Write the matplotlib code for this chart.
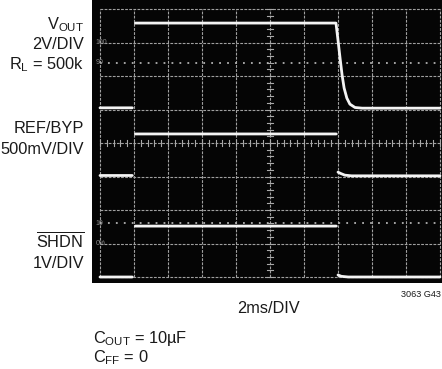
"""
Scope capture: VOUT, REF/BYP and SHDN turn-on / turn-off transient.
"""
import numpy as np
import matplotlib.pyplot as plt

plt.rcParams['font.family'] = ['Liberation Sans', 'DejaVu Sans']
plt.rcParams['mathtext.fontset'] = 'custom'
plt.rcParams['mathtext.rm'] = 'Liberation Sans'
plt.rcParams['mathtext.it'] = 'Liberation Sans'

# ---------------------------------------------------------------------
# Traces (x in divisions, y in divisions)
# ---------------------------------------------------------------------
nan = np.nan

vout_t = [0.0, 0.95, nan, 1.04, 6.94, 7.0, 7.06, 7.12, 7.18, 7.26, 7.35, 7.5, 7.71, 10.0]
vout_v = [5.05, 5.05, nan, 7.58, 7.58, 7.07, 6.54, 6.03, 5.64, 5.34, 5.16, 5.06, 5.04, 5.04]

ref_t = [0.0, 0.95, nan, 1.04, 6.95, nan, 7.0, 7.08, 7.2, 7.4, 10.0]
ref_v = [3.03, 3.03, nan, 4.27, 4.27, nan, 3.13, 3.09, 3.04, 3.02, 3.02]

shdn_t = [0.0, 0.95, nan, 1.04, 6.95, nan, 7.0, 7.1, 7.3, 10.0]
shdn_v = [0.0, 0.0, nan, 1.52, 1.52, nan, 0.06, 0.02, 0.0, 0.0]

# graticule percentage markers (label, y in divisions)
pct_labels = ["100", "90", "10", "0%"]
pct_levels = [7.0, 6.4, 1.6, 1.0]

# ---------------------------------------------------------------------
# Figure
# ---------------------------------------------------------------------
W, H = 442, 369
fig = plt.figure(figsize=(W / 100, H / 100), dpi=100)
fig.patch.set_facecolor('white')

# black screen area: px x 92..442, y 0..283
ax = fig.add_axes([92 / W, 1 - 283 / H, 350 / W, 283 / H])
ax.set_facecolor('#050505')
ax.set_xlim(-8 / 34, 10 + 2 / 34)
ax.set_ylim(-6 / 33.5, 8 + 9 / 33.5)
ax.set_xticks([])
ax.set_yticks([])
for s in ax.spines.values():
    s.set_visible(False)

grid_kw = dict(color='#a0a0a0', lw=0.8, ls=(0, (2.5, 1.2)), zorder=1)
for gx in range(11):
    ax.plot([gx, gx], [0, 8], **grid_kw)
for gy in range(9):
    ax.plot([0, 10], [gy, gy], **grid_kw)

# minor ticks on centre lines
tick_kw = dict(color='#a8a8a8', lw=0.8, zorder=1)
for ty in np.arange(0, 8.01, 0.2):
    ax.plot([4.9, 5.1], [ty, ty], **tick_kw)
for tx in np.arange(0, 10.01, 0.2):
    ax.plot([tx, tx], [3.9, 4.1], **tick_kw)

# 90% / 10% dotted lines
for lev in (6.4, 1.6):
    ax.plot([0, 10], [lev, lev], color='#b0b0b0', lw=1.3,
            ls=(0, (1.0, 3.4)), zorder=1)

for lab, lev in zip(pct_labels, pct_levels):
    ax.text(-0.12, lev, lab, color='#8a8a8a', fontsize=5,
            ha='left', va='center', zorder=2)

trace_kw = dict(color='#f4f4f4', lw=2.0, solid_capstyle='round', zorder=3)
ax.plot(vout_t, vout_v, **trace_kw)
ax.plot(ref_t, ref_v, **trace_kw)
ax.plot(shdn_t, shdn_v, **trace_kw)


# ---------------------------------------------------------------------
# Labels
# ---------------------------------------------------------------------
def ftext(px, py, s, **kw):
    fig.text(px / W, 1 - py / H, s, va='baseline', **kw)


FS = 11.8
lab_kw = dict(fontsize=FS, ha='right', color='#1a1a1a')
ftext(84, 29, r'V$_{\mathrm{OUT}}$', **lab_kw)
ftext(84, 49, '2V/DIV', **lab_kw)
ftext(84, 69, r'R$_{\mathrm{L}}$ = 500k', **lab_kw)
ftext(84, 133, 'REF/BYP', **lab_kw)
ftext(84, 154, '500mV/DIV', **lab_kw)
ftext(84, 247, r'$\overline{\mathrm{SHDN}}$', **lab_kw)
ftext(84, 268, '1V/DIV', **lab_kw)

ftext(268, 313, '2ms/DIV', fontsize=FS, ha='center', color='#1a1a1a')
ftext(441, 297, '3063 G43', fontsize=6.6, ha='right', color='#1a1a1a')
ftext(93, 343, r'C$_{\mathrm{OUT}}$ = 10µF', fontsize=FS, ha='left', color='#1a1a1a')
ftext(93, 362, r'C$_{\mathrm{FF}}$ = 0', fontsize=FS, ha='left', color='#1a1a1a')

fig.savefig('out.png', dpi=100)
